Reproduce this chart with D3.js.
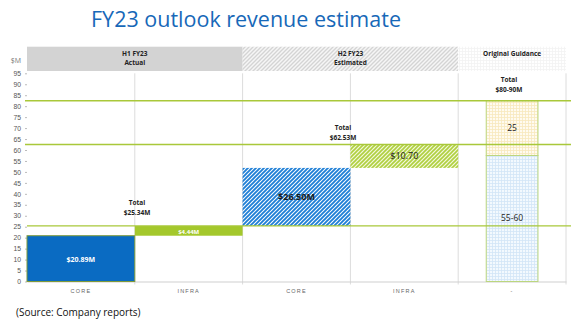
<!DOCTYPE html>
<html>
<head>
<meta charset="utf-8">
<script src="https://cdn.jsdelivr.net/npm/d3@7/dist/d3.min.js"></script>
<style>
  html, body { margin: 0; padding: 0; background: #fff; }
  svg { display: block; font-family: "Open Sans", "Liberation Sans", sans-serif; }
</style>
</head>
<body>
<svg id="chart" width="586" height="335"></svg>
<script>
// Categories along the x axis
const categories = ["CORE", "INFRA", "CORE", "INFRA", "-"];
// Y axis ticks ($M)
const yTicks = d3.range(0, 96, 5);

// Waterfall pieces: category index, value, label, style
const pieceCat    = [0, 1, 2, 3];
const pieceValue  = [20.89, 4.44, 26.50, 10.70];
const pieceLabel  = ["$20.89M", "$4.44M", "$26.50M", "$10.70"];
const pieceStyle  = ["coreSolid", "infraSolid", "coreHatch", "infraHatch"];

// Original guidance stack (midpoints of the stated ranges)
const guideValue  = [57.5, 25];
const guideLabel  = ["55-60", "25"];

// Running totals marked with reference lines
const totalValue  = [25.34, 62.53, 82.5];
const totalLabel  = ["$25.34M", "$62.53M", "$80-90M"];

// Period headers
const headerName  = ["H1 FY23", "H2 FY23", "Original Guidance"];
const headerSub   = ["Actual", "Estimated", ""];
const headerSpan  = [[0, 2], [2, 4], [4, 5]];

const svg = d3.select("#chart");
const plotL = 27, plotR = 566, plotT = 73.3, plotB = 281.5;

const x = d3.scaleBand().domain(d3.range(categories.length)).range([plotL, plotR]).padding(0);
const y = d3.scaleLinear().domain([0, 95]).range([plotB, plotT]);

// ---- patterns ----
const defs = svg.append("defs");
function hatch(id, color, bg, w) {
  const p = defs.append("pattern").attr("id", id).attr("patternUnits", "userSpaceOnUse")
    .attr("width", 4).attr("height", 4);
  p.append("rect").attr("width", 4).attr("height", 4).attr("fill", bg);
  p.append("path").attr("d", "M-1,1 L1,-1 M0,4 L4,0 M3,5 L5,3")
    .attr("stroke", color).attr("stroke-width", w);
}
hatch("hBlue", "#1f7fd6", "#ffffff", 1.9);
hatch("hGreen", "#b0d040", "#f2f8dc", 1.6);
hatch("hGray", "#d4d4d4", "#f6f6f6", 1.3);
function checker(id, bg, line) {
  const p = defs.append("pattern").attr("id", id).attr("patternUnits", "userSpaceOnUse")
    .attr("width", 3).attr("height", 3);
  p.append("rect").attr("width", 3).attr("height", 3).attr("fill", bg);
  p.append("path").attr("d", "M0,0.5 H3 M0.5,0 V3").attr("stroke", line).attr("stroke-width", 0.8);
}
checker("cYellow", "#fffbf0", "#f7e9bc");
checker("cBlue", "#f3f9fe", "#d2e5f6");
checker("cDots", "#ffffff", "#f2f2f2");

const fills = {
  coreSolid: "#0a6bc2", infraSolid: "#a4c82c",
  coreHatch: "url(#hBlue)", infraHatch: "url(#hGreen)"
};

// ---- title ----
svg.append("text").attr("x", 246).attr("y", 27).attr("text-anchor", "middle")
  .attr("font-family", "'Open Sans', sans-serif").attr("font-size", 21.5)
  .attr("fill", "#1768b8").text("FY23 outlook revenue estimate");

// ---- header bands ----
const hdrT = 46.7, hdrB = 71;
const hdrFill = ["#d3d3d3", "url(#hGray)", "url(#cDots)"];
headerSpan.forEach((s, i) => {
  const x0 = x(s[0]), x1 = x(s[1] - 1) + x.bandwidth();
  svg.append("rect").attr("x", x0).attr("y", hdrT).attr("width", x1 - x0).attr("height", hdrB - hdrT)
    .attr("fill", hdrFill[i]);
  const cx = (x0 + x1) / 2;
  const t = svg.append("text").attr("text-anchor", "middle").attr("font-size", 6.5)
    .attr("font-weight", "bold").attr("fill", "#222");
  t.append("tspan").attr("x", cx).attr("y", 56).text(headerName[i]);
  if (headerSub[i]) t.append("tspan").attr("x", cx).attr("y", 65).text(headerSub[i]);
});

svg.append("text").attr("x", 16).attr("y", 63).attr("text-anchor", "middle")
  .attr("font-size", 7).attr("fill", "#777").text("$M");

// ---- grid: vertical separators ----
svg.append("g").selectAll("line").data(d3.range(1, categories.length + 1)).join("line")
  .attr("x1", d => x(d - 1) + x.bandwidth()).attr("x2", d => x(d - 1) + x.bandwidth())
  .attr("y1", plotT).attr("y2", plotB + 3)
  .attr("stroke", "#dcdcdc").attr("stroke-width", 1);

// ---- y axis ----
const yAxis = svg.append("g").attr("transform", `translate(${plotL},0)`)
  .call(d3.axisLeft(y).tickValues(yTicks).tickSize(2).tickPadding(4));
yAxis.select(".domain").remove();
yAxis.selectAll("line").attr("stroke", "#bbb");
yAxis.selectAll("text").attr("font-size", 6.8).attr("fill", "#555");

// ---- x axis ----
const xAxis = svg.append("g").attr("transform", `translate(0,${plotB})`)
  .call(d3.axisBottom(x).tickFormat(i => categories[i]).tickSize(0).tickPadding(8));
xAxis.select(".domain").attr("stroke", "#d0d0d0").attr("stroke-width", 1.2);
xAxis.selectAll("text").attr("font-size", 5.5).attr("fill", "#666").attr("letter-spacing", 1.2);

// ---- waterfall bars ----
const starts = [];
pieceValue.reduce((acc, v) => { starts.push(acc); return acc + v; }, 0);
const bars = svg.append("g");
pieceValue.forEach((v, i) => {
  const x0 = x(pieceCat[i]);
  const y0 = y(starts[i] + v), y1 = y(starts[i]);
  bars.append("rect").attr("x", x0).attr("y", y0).attr("width", x.bandwidth()).attr("height", y1 - y0)
    .attr("fill", fills[pieceStyle[i]])
    .attr("stroke", i === 0 ? "#7f9a3a" : "none").attr("stroke-width", 1);
  const cy = (y0 + y1) / 2;
  const solid = pieceStyle[i].endsWith("Solid");
  bars.append("text").attr("x", x0 + x.bandwidth() / 2).attr("y", cy + 3)
    .attr("text-anchor", "middle")
    .attr("font-size", i < 2 ? (i === 0 ? 7 : 6) : 9)
    .attr("font-weight", i === 3 ? "normal" : "bold")
    .attr("fill", solid ? "#ffffff" : "#1a1a1a")
    .text(pieceLabel[i]);
});

// ---- guidance stack ----
const gW = x.bandwidth() * 0.48;
const gX = x(4) + (x.bandwidth() - gW) / 2;
const gFill = ["url(#cBlue)", "url(#cYellow)"];
let gAcc = 0;
guideValue.forEach((v, i) => {
  const y0 = y(gAcc + v), y1 = y(gAcc);
  svg.append("rect").attr("x", gX).attr("y", y0).attr("width", gW).attr("height", y1 - y0)
    .attr("fill", gFill[i]).attr("stroke", "#bcd67e").attr("stroke-width", 1);
  gAcc += v;
});
svg.append("text").attr("x", gX + gW / 2).attr("y", y(27.5)).attr("text-anchor", "middle")
  .attr("font-size", 8.5).attr("fill", "#222").text(guideLabel[0]);
svg.append("text").attr("x", gX + gW / 2).attr("y", y(70) + 3).attr("text-anchor", "middle")
  .attr("font-size", 8.5).attr("fill", "#222").text(guideLabel[1]);

// ---- total lines ----
svg.append("g").selectAll("line").data(totalValue).join("line")
  .attr("x1", (d, i) => i === 0 ? plotL : plotL - 2).attr("x2", plotR + 5)
  .attr("y1", d => y(d)).attr("y2", d => y(d))
  .attr("stroke", "#a9c83a").attr("stroke-width", (d, i) => i === 0 ? 1.2 : 1.5);

// ---- total labels ----
const totalPos = [[137, 205], [343, 130], [509, 82]];
totalLabel.forEach((lab, i) => {
  const t = svg.append("text").attr("text-anchor", "middle").attr("font-size", 6.5)
    .attr("font-weight", "bold").attr("fill", "#222");
  t.append("tspan").attr("x", totalPos[i][0]).attr("y", totalPos[i][1]).text("Total");
  t.append("tspan").attr("x", totalPos[i][0]).attr("y", totalPos[i][1] + 9.5).text(lab);
});

// ---- source ----
svg.append("text").attr("x", 16).attr("y", 316).attr("font-size", 10)
  .attr("font-family", "'Open Sans', sans-serif").attr("fill", "#111")
  .text("(Source: Company reports)");
</script>
</body>
</html>
